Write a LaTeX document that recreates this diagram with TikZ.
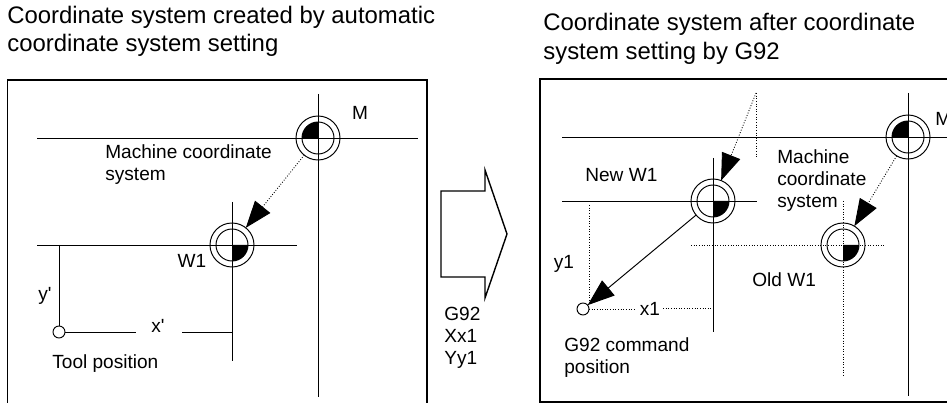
\documentclass[tikz,border=0pt]{standalone}
\usepackage{fontspec}
\setmainfont{Liberation Sans}[Ligatures=TeXOff]
\usetikzlibrary{arrows.meta}
\newcommand{\zeromark}[3]{%
  \node[ringout] (#1) at #2 {};
  \node[ringin] (#1in) at (#1.center) {};
  \fill (#1.center) -- ++(#3:0.32) arc (#3:#3+90:0.32) -- cycle;
}

\begin{document}
\begin{tikzpicture}[
  axis/.style={line width=0.55pt},
  frameline/.style={line width=0.8pt},
  faint/.style={line width=0.5pt, densely dotted},
  head/.style={-{Triangle[length=5.4mm,width=3.9mm]}},
  ringout/.style={circle, draw, line width=0.55pt, minimum size=8.8mm, inner sep=0pt, outer sep=0pt},
  ringin/.style={circle, draw, line width=0.55pt, minimum size=6.4mm, inner sep=0pt, outer sep=0pt},
  toolmark/.style={circle, draw, fill=white, line width=0.55pt, minimum size=2.4mm, inner sep=0pt, outer sep=0pt},
  lab/.style={align=left, font=\fontsize{10.85}{12.5}\selectfont, inner sep=0pt},
  title/.style={align=left, anchor=west, font=\fontsize{13.6}{16.2}\selectfont, inner sep=0pt}
]
\useasboundingbox (0,0) rectangle (18.94,8.06);
% the two headings
\node[title] (lefttitle) at (0.14,7.43)
  {Coordinate system created by automatic\\ coordinate system setting};
\node[title] (righttitle) at (10.86,7.28)
  {Coordinate system after coordinate\\ system setting by G92};
% left panel
\draw[frameline] (0.15,0) -- (0.15,6.46) -- (8.54,6.46) -- (8.54,0);
\draw[axis] (0.74,5.30) -- (8.36,5.30);
\draw[axis] (6.36,6.18) -- (6.36,0.12);
\draw[axis] (0.74,3.16) -- (5.94,3.16);
\draw[axis] (4.64,4.02) -- (4.64,0.84);
\zeromark{lM}{(6.36,5.30)}{90}
\zeromark{lW}{(4.64,3.16)}{270}
\draw[faint, head] (lM) -- (lW);
\node[toolmark] (tool) at (1.18,1.42) {};
\coordinate (ybase) at (1.18,3.16);
\coordinate (xa) at (2.72,1.42);
\coordinate (xb) at (3.64,1.42);
\coordinate (xfoot) at (4.64,1.42);
\draw[axis] (ybase) -- (tool);
\draw[axis] (tool) -- (xa);
\draw[axis] (xb) -- (xfoot);
\node[lab] (lMlab) at (7.20,5.80) {M};
\node[lab, anchor=west] (lmach) at (2.10,4.76) {Machine coordinate\\ system};
\node[lab] (lWlab) at (3.84,2.84) {W1};
\node[lab] (yplab) at (0.90,2.14) {y'};
\node[lab] (xplab) at (3.16,1.54) {x'};
\node[lab, anchor=west] (toollab) at (1.04,0.78) {Tool position};
% the big arrow between the panels
\draw[frameline] (8.82,4.24) -- (9.70,4.24) -- (9.70,4.66) -- (10.14,3.38)
  -- (9.70,2.10) -- (9.70,2.52) -- (8.82,2.52) -- cycle;
\node[lab, anchor=west] (cmdlab) at (8.88,1.30) {G92\\ Xx1\\ Yy1};
% right panel
\draw[frameline] (18.94,6.48) -- (10.80,6.48) -- (10.80,0.02) -- (18.94,0.02);
\draw[axis] (11.24,5.32) -- (18.94,5.32);
\draw[axis] (18.16,6.20) -- (18.16,0.14);
\draw[axis] (11.24,4.04) -- (15.14,4.04);
\draw[axis] (14.26,4.90) -- (14.26,1.42);
\draw[faint] (13.82,3.16) -- (17.72,3.16);
\draw[faint] (16.86,4.04) -- (16.86,0.56);
\zeromark{rM}{(18.16,5.32)}{90}
\zeromark{rN}{(14.26,4.04)}{270}
\zeromark{rO}{(16.86,3.16)}{270}
\coordinate (oldtop) at (15.12,6.20);
\coordinate (oldbot) at (15.12,4.90);
\draw[faint] (oldtop) -- (oldbot);
\draw[faint, head] (oldtop) -- (rN);
\draw[faint, head] (rM) -- (rO);
\node[toolmark] (cmd) at (11.66,1.88) {};
\draw[axis, head] (rN) -- (cmd);
\coordinate (ytop) at (11.78,3.96);
\coordinate (ybot) at (11.78,1.96);
\coordinate (wa) at (12.70,1.88);
\coordinate (wb) at (13.26,1.90);
\coordinate (wfoot) at (14.26,1.90);
\draw[faint] (ytop) -- (ybot);
\draw[faint] (cmd) -- (wa);
\draw[faint] (wb) -- (wfoot);
\node[lab, anchor=west] (rMlab) at (18.70,5.68) {M};
\node[lab, anchor=west] (newlab) at (11.70,4.56) {New W1};
\node[lab, anchor=west] (rmach) at (15.54,4.44) {Machine\\ coordinate\\ system};
\node[lab, anchor=west] (oldlab) at (15.04,2.46) {Old W1};
\node[lab] (y1lab) at (11.28,2.78) {y1};
\node[lab] (x1lab) at (13.00,1.88) {x1};
\node[lab, anchor=west] (cmdpos) at (11.28,0.90) {G92 command\\ position};
\end{tikzpicture}
\end{document}
